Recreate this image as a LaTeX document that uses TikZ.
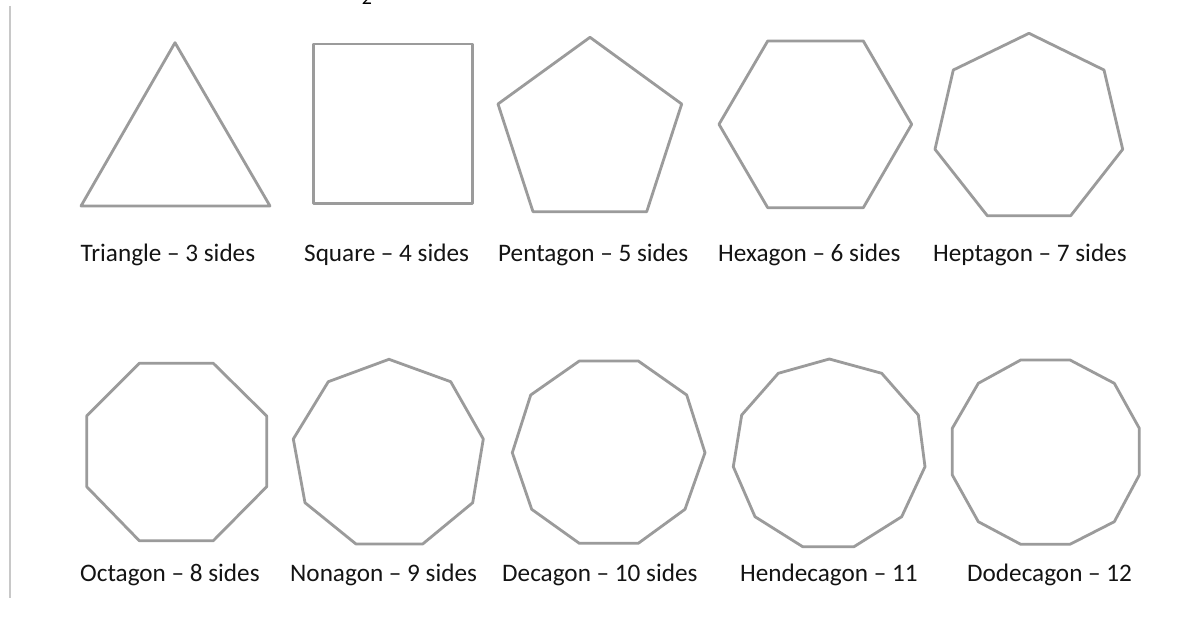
\documentclass[tikz,border=0pt]{standalone}
\usepackage{fontspec}
\setmainfont{Carlito}
\definecolor{edge}{RGB}{155,155,155}
\definecolor{rule}{RGB}{200,200,200}
\begin{document}
\begin{tikzpicture}[x=1pt,y=-1pt,
  poly/.style={draw=edge,line width=2.8pt,line join=round},
  lbl/.style={anchor=base west,inner sep=0pt,font=\fontsize{25.2}{30}\selectfont,text=black!92}]
\useasboundingbox (0,0) rectangle (1195,618);
\fill[white] (0,0) rectangle (1195,618);
% left rule
\draw[rule,line width=2.2pt] (10,6) -- (10,598);
% cut-off page number
\node[anchor=base,inner sep=0pt,font=\fontsize{20}{24}\selectfont] (pg) at (367,5) {2};
% row 1
\draw[poly] (175,42.7) -- (270,206) -- (81,206) -- cycle;
\draw[poly] (313.3,44) rectangle (472.7,203.3);
\draw[poly] (590,37.3) -- (681.7,104) -- (646.7,211.7) -- (533,211.7) -- (498,104) -- cycle;
\draw[poly] (767.7,41) -- (863.3,41) -- (911.7,124.3) -- (863.3,207.7) -- (767.7,207.7) -- (719,124.3) -- cycle;
\draw[poly] (1029,33.3) -- (1104,70) -- (1122.7,149.3) -- (1070.7,215.7) -- (987.3,215.7) -- (935,149.3) -- (953.3,70) -- cycle;
% row 2
\draw[poly] (139.3,363.3) -- (213.3,363.3) -- (266.7,416) -- (266.7,486.7) -- (213.3,540.7) -- (139.3,540.7) -- (86.7,486.7) -- (86.7,416) -- cycle;
\draw[poly] (389,359.3) -- (450.7,381.7) -- (483.3,439) -- (472.7,502.7) -- (422.7,544) -- (356,544) -- (305,502.7) -- (293.3,439) -- (328.3,381.7) -- cycle;
\draw[poly] (579.3,361) -- (638.3,361) -- (686.7,395) -- (705,452.7) -- (685,509.3) -- (638.3,543.3) -- (579.3,543.3) -- (531.7,509.3) -- (512.3,452.7) -- (530.7,395) -- cycle;
\draw[poly] (829.3,359) -- (881.7,373.3) -- (918.3,415) -- (925,466.7) -- (901.7,516.7) -- (854,546.7) -- (802.7,546.7) -- (755,516.7) -- (733.3,466.7) -- (741.7,415) -- (778.3,373.3) -- cycle;
\draw[poly] (1020.7,360) -- (1070,360) -- (1114.3,383.3) -- (1139.3,428.3) -- (1139.3,475) -- (1114.3,521.7) -- (1070,544.3) -- (1020.7,544.3) -- (978.3,521.7) -- (952.3,475) -- (952.3,428.3) -- (978.3,383.3) -- cycle;
% labels
\node[lbl] (l3) at (80.5,261.7) {Triangle – 3 sides};
\node[lbl] (l4) at (304,261.7) {Square – 4 sides};
\node[lbl] (l5) at (498,261.7) {Pentagon – 5 sides};
\node[lbl] (l6) at (718,261.7) {Hexagon – 6 sides};
\node[lbl] (l7) at (933,261.7) {Heptagon – 7 sides};
\node[lbl] (l8) at (80,581.7) {Octagon – 8 sides};
\node[lbl] (l9) at (290,581.7) {Nonagon – 9 sides};
\node[lbl] (l10) at (502,581.7) {Decagon – 10 sides};
\node[lbl] (l11) at (740,581.7) {Hendecagon – 11};
\node[lbl] (l12) at (967,581.7) {Dodecagon – 12};
\end{tikzpicture}
\end{document}
